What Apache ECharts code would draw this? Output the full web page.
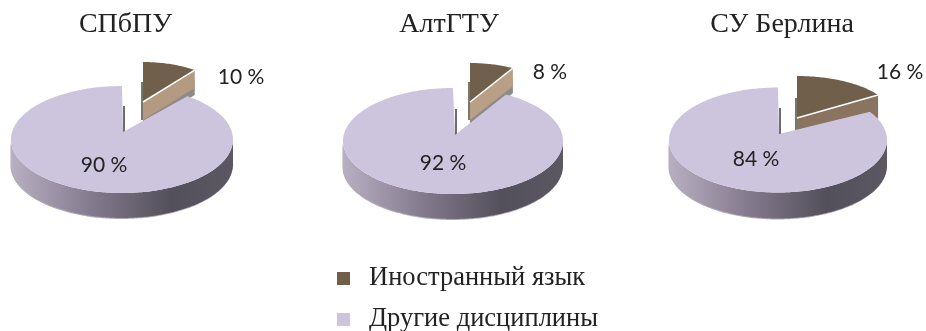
<!DOCTYPE html>
<html>
<head>
<meta charset="utf-8">
<style>html,body{margin:0;padding:0;background:#fff}#c{width:926px;height:331px}</style>
<script src="https://cdn.jsdelivr.net/npm/echarts@6/dist/echarts.min.js"></script>
</head>
<body>
<div id="c"></div>
<script>
// Share of study time per university, percent
const universities = ['СПбПУ', 'АлтГТУ', 'СУ Берлина'];
const foreignLanguage = [10, 8, 16];
const otherSubjects = [90, 92, 84];
const seriesNames = ['Иностранный язык', 'Другие дисциплины'];

// Ellipse geometry of each tilted pie: the main body and its pulled-out slice
const bodyGeometry = [
  { ax: 123, ay: 132, cx: 122, cy: 139.5, rx: 111, ry: 53.5, depth: 25 },
  { ax: 455, ay: 135, cx: 453, cy: 141, rx: 110, ry: 53, depth: 25 },
  { ax: 779, ay: 134, cx: 778, cy: 140, rx: 109, ry: 52.5, depth: 26 }
];
const sliceGeometry = [
  { ax: 143, ay: 102, cx: 143, cy: 104, rx: 88, ry: 42, depth: 18, face: '#b39a80' },
  { ax: 470, ay: 102, cx: 470, cy: 105, rx: 89, ry: 42, depth: 18, face: '#b89f86' },
  { ax: 797, ay: 118, cx: 797, cy: 117, rx: 96, ry: 41, depth: 22, face: '#8a735f' }
];
const titleCenters = [120.5, 444, 777];
const legendTops = [265, 306];
const bodyLabelAt = [[104, 165], [443, 163], [756, 159]];
const sliceLabelAt = [[241, 77], [550, 72], [900, 72]];

const labelFont = '21px Lato';

function rim(g, from, to) {
  const pts = [];
  const steps = Math.max(2, Math.round((to - from) / (Math.PI / 180)));
  for (let i = 0; i <= steps; i++) {
    const t = from + (to - from) * i / steps;
    pts.push([g.cx + g.rx * Math.sin(t), g.cy - g.ry * Math.cos(t)]);
  }
  return pts;
}

function label(text, at) {
  return {
    type: 'text', z2: 20, silent: true,
    style: { x: at[0], y: at[1], text, font: labelFont, fill: '#222', align: 'center', verticalAlign: 'middle' }
  };
}

function renderSlice(params, api) {
  const i = api.value(0), v = api.value(1), g = sliceGeometry[i];
  const end = v / 100 * Math.PI * 2;
  const tip = rim(g, end, end)[0];
  const drop = (p, d) => [p[0], p[1] + d];
  const apex = [g.ax, g.ay];
  return {
    type: 'group',
    children: [
      { type: 'line', z2: 1, shape: { x1: g.ax - 1, y1: g.ay - 20, x2: g.ax - 1, y2: g.ay + g.depth },
        style: { stroke: '#77766f', lineWidth: 2 } },
      { type: 'polygon', z2: 2, shape: { points: [[tip[0], tip[1] + 10], drop(tip, g.depth + 7), drop(apex, g.depth + 7), apex] },
        style: { fill: '#8d8b88' } },
      { type: 'polygon', z2: 3, shape: { points: [apex, tip, drop(tip, g.depth), drop(apex, g.depth)] },
        style: { fill: g.face } },
      { type: 'polygon', z2: 4, shape: { points: [apex].concat(rim(g, 0, end)) },
        style: { fill: api.visual('color') } },
      { type: 'line', z2: 5, shape: { x1: apex[0], y1: apex[1], x2: tip[0], y2: tip[1] },
        style: { stroke: '#fff', lineWidth: 1.5 } },
      label(v + ' %', sliceLabelAt[i])
    ]
  };
}

function renderBody(params, api) {
  const i = api.value(0), v = api.value(1), g = bodyGeometry[i];
  const start = (100 - v) / 100 * Math.PI * 2;
  const front = rim(g, Math.PI / 2, Math.PI * 3 / 2);
  const sidePts = front.map(p => [p[0], p[1] + g.depth]).concat(front.slice().reverse());
  return {
    type: 'group',
    children: [
      // soft rim under the lower edge
      { type: 'polygon', z2: 6, shape: { points: sidePts.map(p => [p[0] - 0.5, p[1] + 1]) },
        style: { fill: '#77737c', opacity: 0.6 } },
      { type: 'polygon', z2: 7, shape: { points: sidePts },
        style: { fill: { type: 'linear', x: 1, y: 0, x2: 0, y2: 0, colorStops: [
          { offset: 0, color: '#5c5863' }, { offset: 0.28, color: '#53505b' },
          { offset: 0.6, color: '#7f7588' }, { offset: 1, color: '#b9afc3' }
        ] } } },
      { type: 'line', z2: 7, shape: { x1: g.ax + 1, y1: g.ay - 26, x2: g.ax + 1, y2: g.ay },
        style: { stroke: '#6e6c70', lineWidth: 2 } },
      { type: 'polygon', z2: 8, shape: { points: [[g.ax, g.ay]].concat(rim(g, start, Math.PI * 2)) },
        style: { fill: api.visual('color') } },
      label(v + ' %', bodyLabelAt[i])
    ]
  };
}

const chart = echarts.init(document.getElementById('c'), null, { renderer: 'canvas' });
chart.setOption({
  animation: false,
  backgroundColor: '#fff',
  title: universities.map((name, i) => ({
    text: name, left: titleCenters[i], top: 6, textAlign: 'center',
    textStyle: { fontFamily: 'Liberation Serif', fontSize: 28, fontWeight: 'normal', color: '#222' }
  })),
  // one single-entry legend per row, so the rows can sit close to the bottom edge
  legend: seriesNames.map((name, i) => ({
    data: [name], left: 337, top: legendTops[i], padding: 0, itemWidth: 13, itemHeight: 13,
    icon: 'rect', selectedMode: false,
    textStyle: { fontFamily: 'Liberation Serif', fontSize: 26.5, lineHeight: 26, color: '#222', padding: [0, 0, 0, 14] }
  })),
  series: [
    { type: 'custom', name: seriesNames[0], coordinateSystem: 'none', renderItem: renderSlice, silent: true,
      itemStyle: { color: '#6f5f4b' }, data: foreignLanguage.map((v, i) => [i, v]) },
    { type: 'custom', name: seriesNames[1], coordinateSystem: 'none', renderItem: renderBody, silent: true,
      itemStyle: { color: '#cdc4de' }, data: otherSubjects.map((v, i) => [i, v]) }
  ]
});
</script>
</body>
</html>
